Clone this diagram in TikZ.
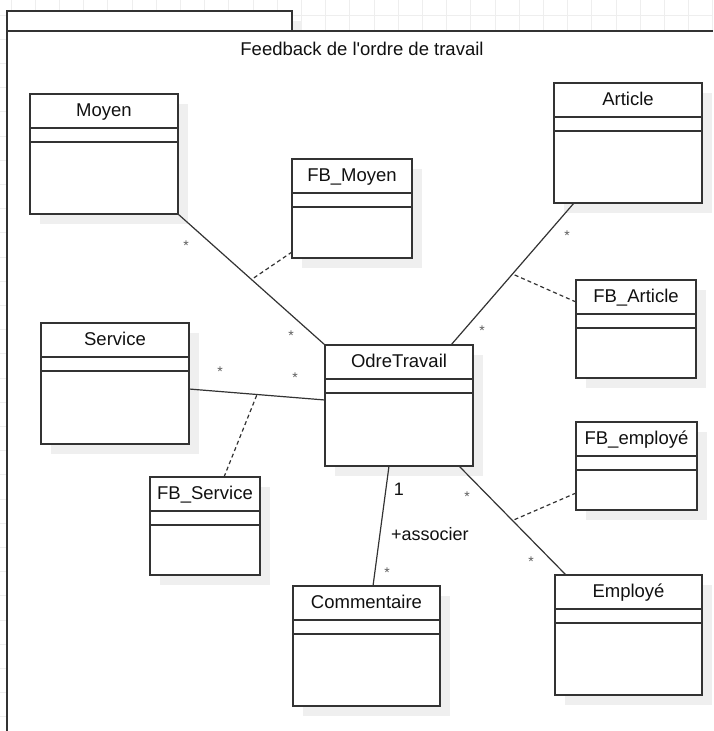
\documentclass[tikz,border=0pt]{standalone}
\usepackage{fontspec}
\setmainfont{Liberation Sans}
\usetikzlibrary{calc}
\definecolor{ink}{HTML}{333333}
\definecolor{txt}{HTML}{111111}
\definecolor{shadowc}{HTML}{EFEFEF}
\definecolor{gridc}{HTML}{EEEEEE}
\tikzset{
 classbox/.style={draw=ink, line width=1.3pt, fill=white, rectangle, inner sep=0pt, outer sep=0pt},
 boxline/.style={draw=ink, line width=1.3pt},
 titletext/.style={anchor=base, text=txt, font=\fontsize{18.5}{22}\selectfont, inner sep=0pt},
 assoc/.style={draw=ink, line width=1.2pt},
 fbline/.style={draw=ink, line width=1.2pt, dash pattern=on 4pt off 3pt},
 mult/.style={anchor=base, text=ink!80, font=\fontsize{14}{16}\selectfont, inner sep=0pt},
 lbl/.style={anchor=base, text=txt, font=\fontsize{18}{22}\selectfont, inner sep=0pt},
 gridline/.style={draw=gridc, line width=0.8pt},
 frameline/.style={draw=ink, line width=1.5pt},
}
\newcommand{\umlbox}[6]{%
  \fill[shadowc] (#2+10,#3+10) rectangle ++(#4,#5);
  \node[classbox, minimum width=#4pt, minimum height=#5pt, anchor=north west] (#1) at (#2,#3) {};
  \draw[boxline] ([yshift=-34pt]#1.north west) -- ([yshift=-34pt]#1.north east);
  \draw[boxline] ([yshift=-48pt]#1.north west) -- ([yshift=-48pt]#1.north east);
  \node[titletext] at ([yshift=-22pt]#1.north) {#6};
}
\begin{document}
\begin{tikzpicture}[x=1pt,y=-1pt]
\useasboundingbox (0,0) rectangle (713,731);
\fill[white] (0,0) rectangle (713,731);
% background grid
\foreach \i in {0,...,29} \draw[gridline] ({11+24.2*\i},0) -- ({11+24.2*\i},731);
\foreach \j in {0,...,29} \draw[gridline] (0,{15+24.2*\j}) -- (713,{15+24.2*\j});
% frame
\fill[white] (7,31) rectangle (713,731);
\fill[shadowc] (17,21) rectangle (302,31);
\draw[frameline, fill=white] (7,31) rectangle (292,11);
\draw[frameline] (7,731) -- (7,31) -- (713,31);
\node[titletext] (title) at (362,55) {Feedback de l\textquotesingle ordre de travail};
% classes
\umlbox{moyen}{30}{94}{148}{120}{Moyen}
\umlbox{fbmoyen}{292}{159}{120}{99}{FB\_Moyen}
\umlbox{article}{554}{83}{148}{120}{Article}
\umlbox{fbarticle}{576}{280}{120}{98}{FB\_Article}
\umlbox{odre}{325}{345}{148}{121}{OdreTravail}
\umlbox{service}{41}{323}{148}{121}{Service}
\umlbox{fbservice}{150}{477}{110}{98}{FB\_Service}
\umlbox{fbemploye}{576}{422}{121}{88}{FB\_employé}
\umlbox{employe}{555}{575}{147}{120}{Employé}
\umlbox{commentaire}{293}{586}{147}{120}{Commentaire}
% associations
\draw[assoc] (moyen.south east) -- (odre.north west) coordinate[pos=0.5] (mMoyen);
\draw[assoc] ([xshift=20pt]article.south west) -- ([xshift=126pt]odre.north west) coordinate[pos=0.5] (mArticle);
\draw[assoc] ([yshift=-66pt]service.north east) -- ([yshift=-55pt]odre.north west) coordinate[pos=0.5] (mService);
\draw[assoc] ([xshift=64pt]odre.south west) -- ([xshift=80pt]commentaire.north west);
\draw[assoc] ([xshift=134pt]odre.south west) -- ([xshift=11pt]employe.north west) coordinate[pos=0.5] (mEmp);
% association classes
\draw[fbline] ([yshift=-93pt]fbmoyen.north west) -- (mMoyen);
\draw[fbline] ([yshift=-22pt]fbarticle.north west) -- (mArticle);
\draw[fbline] ([xshift=74pt]fbservice.north west) -- (mService);
\draw[fbline] ([yshift=-71pt]fbemploye.north west) -- (mEmp);
% multiplicities
\node[mult] (s1) at (186,250.6) {*};
\node[mult] (s2) at (291,340.6) {*};
\node[mult] (s3) at (220,376.6) {*};
\node[mult] (s4) at (295,382.6) {*};
\node[mult] (s5) at (567,240.6) {*};
\node[mult] (s6) at (482,335.6) {*};
\node[mult] (s7) at (387,577.6) {*};
\node[mult] (s8) at (467,501.6) {*};
\node[mult] (s9) at (531,566.6) {*};
\node[lbl] (one) at (399,495) {1};
\node[lbl, anchor=base west] (assoclbl) at (391,540) {+associer};
\end{tikzpicture}
\end{document}
